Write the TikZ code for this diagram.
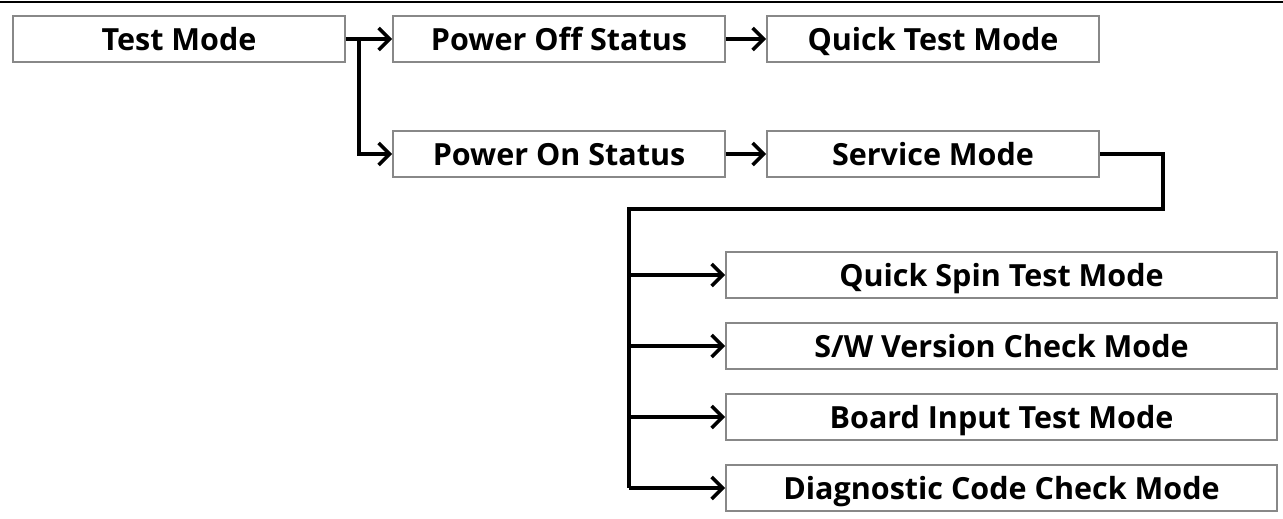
\documentclass[tikz,border=0pt]{standalone}
\usepackage{fontspec}
\setmainfont{Open Sans}
\usepackage{tikz}
\usetikzlibrary{arrows.meta}
\definecolor{boxgray}{RGB}{136,136,136}
\definecolor{linkblack}{RGB}{0,0,0}

\tikzset{
  modebox/.style={draw=boxgray,line width=1.6pt,fill=white,inner sep=0pt,
    minimum width=332pt,minimum height=46pt,text height=22.5pt,text depth=0pt,
    font=\fontsize{30.5}{36}\selectfont\bfseries},
  subbox/.style={modebox,minimum width=551pt},
  link/.style={linkblack,line width=3.6pt},
  linkarrow/.style={link,-{Straight Barb[length=11pt,width=22pt]}}
}

\begin{document}
\begin{tikzpicture}[x=1pt,y=-1pt]
    \useasboundingbox (0,0) rectangle (1283,519);
    % rule at the top
    \draw[line width=1.6pt] (0,2) -- (1283,2);

    % first two levels
    \node[modebox] (test) at (179,39) {Test Mode};
    \node[modebox] (poweroff) at (559,39) {Power Off Status};
    \node[modebox] (poweron) at (559,154) {Power On Status};
    \node[modebox] (quicktest) at (933,39) {Quick Test Mode};
    \node[modebox] (service) at (933,154) {Service Mode};

    % service mode entries
    \node[subbox] (spin) at (1001.5,275) {Quick Spin Test Mode};
    \node[subbox] (swver) at (1001.5,346) {S/W Version Check Mode};
    \node[subbox] (board) at (1001.5,417) {Board Input Test Mode};
    \node[subbox] (diag) at (1001.5,488) {Diagnostic Code Check Mode};

    % connectors
    \coordinate (split) at (359,39);
    \coordinate (loopright) at (1163,209);
    \coordinate (trunk) at (629,209);
    \draw[linkarrow] (test.east) -- (poweroff.west);
    \draw[linkarrow] (split) |- (poweron.west);
    \draw[linkarrow] (poweroff.east) -- (quicktest.west);
    \draw[linkarrow] (poweron.east) -- (service.west);
    \draw[link,line join=miter] (service.east) -| (loopright) -- (trunk) -- (trunk |- diag.west);
    \foreach \entry in {spin,swver,board,diag} {
        \draw[linkarrow] (trunk |- \entry.west) -- (\entry.west);
    }
\end{tikzpicture}
\end{document}
